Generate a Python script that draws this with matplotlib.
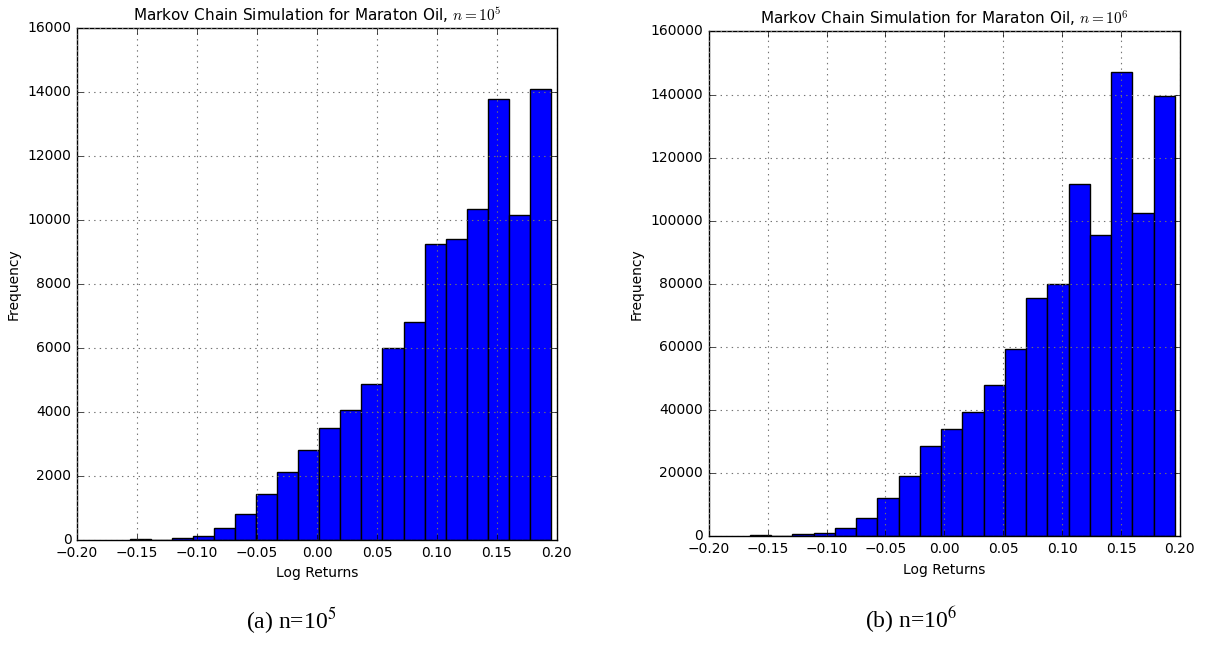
import numpy as np
import matplotlib
matplotlib.use('Agg')
import matplotlib.pyplot as plt

# histogram counts (20 bins each)
counts_1e5 = [30, 10, 70, 135, 385, 810, 1435, 2110, 2810, 3515,
              4050, 4860, 5990, 6810, 9260, 9410, 10350, 13780, 10160, 14090]
counts_1e6 = [300, 100, 500, 850, 2700, 5600, 12000, 18900, 28600, 34000,
              39200, 48000, 59200, 75500, 80000, 111700, 95600, 147000, 102500, 139700]

# bin range of each histogram
range_1e5 = (-0.156, 0.195)
range_1e6 = (-0.165, 0.1957)

titles = [r'Markov Chain Simulation for Maraton Oil, $n = 10^5$',
          r'Markov Chain Simulation for Maraton Oil, $n = 10^6$']
captions = [r'(a) n=10$^5$', r'(b) n=10$^6$']

plt.style.use('classic')
plt.rcParams['figure.facecolor'] = 'white'
plt.rcParams['savefig.facecolor'] = 'white'
plt.rcParams['font.size'] = 10

fig = plt.figure(figsize=(12.24, 6.48), dpi=100)
ax1 = fig.add_axes([0.0629, 0.1667, 0.3921, 0.7901])
ax2 = fig.add_axes([0.579, 0.1728, 0.385, 0.7786])


def draw(ax, counts, rng, title, ymax):
    edges = np.linspace(rng[0], rng[1], len(counts) + 1)
    ax.bar(edges[:-1], counts, width=np.diff(edges), align='edge',
           color='blue', edgecolor='black', linewidth=1)
    ax.set_xlim(-0.2, 0.2)
    ax.set_ylim(0, ymax)
    ax.set_xticks(np.arange(-0.2, 0.201, 0.05))
    ax.set_xticklabels(['−0.20', '−0.15', '−0.10', '−0.05', '0.00',
                        '0.05', '0.10', '0.15', '0.20'])
    ax.grid(True, linestyle=':', color='0.45', linewidth=0.8)
    ax.set_axisbelow(False)
    ax.set_title(title, fontsize=11)
    ax.set_xlabel('Log Returns', fontsize=10)
    ax.set_ylabel('Frequency', fontsize=10)
    ax.tick_params(labelsize=10)


draw(ax1, counts_1e5, range_1e5, titles[0], 16000)
draw(ax2, counts_1e6, range_1e6, titles[1], 160000)

fig.text(0.238, 0.043, captions[0], ha='center', va='center',
         family='Liberation Serif', fontsize=17, math_fontfamily='stix')
fig.text(0.744, 0.043, captions[1], ha='center', va='center',
         family='Liberation Serif', fontsize=17, math_fontfamily='stix')

fig.savefig('out.png', dpi=100)
